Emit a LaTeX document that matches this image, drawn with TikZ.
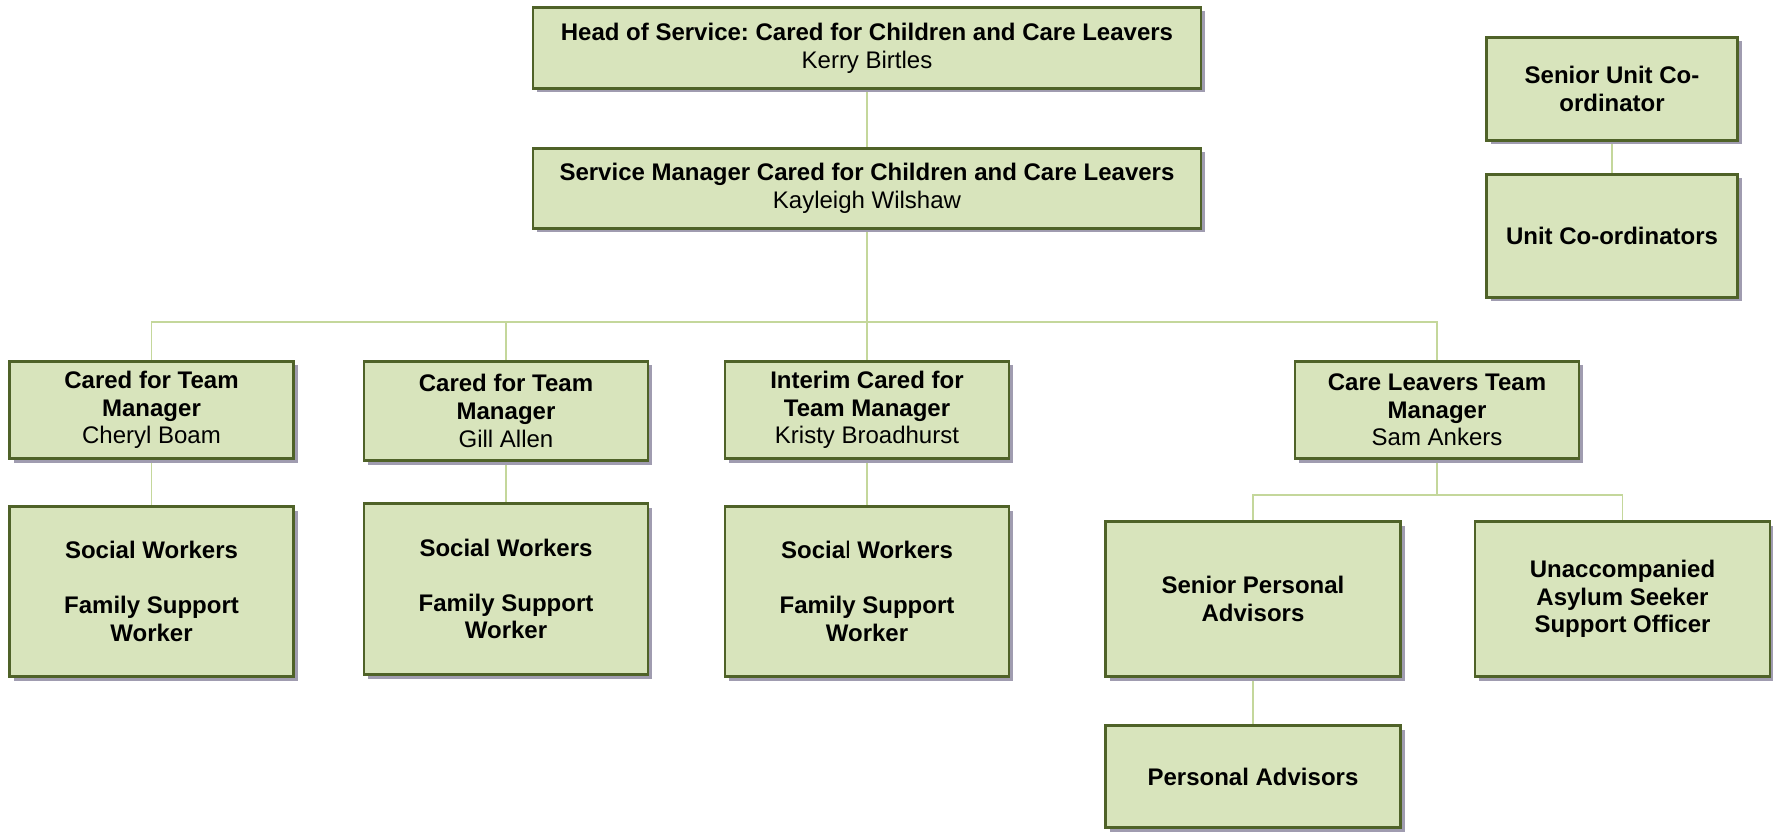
\documentclass[tikz,border=0pt]{standalone}
\usepackage{fontspec}
\setmainfont{Liberation Sans}
\usetikzlibrary{shadows,backgrounds}
\definecolor{boxfill}{HTML}{D8E4BC}
\definecolor{boxborder}{HTML}{4F6228}
\definecolor{shadowc}{HTML}{A09CB0}
\definecolor{connc}{HTML}{C4D79B}
\frenchspacing
\tikzset{
  orgbox/.style={draw=boxborder, fill=boxfill, line width=2.5pt, align=center,
    inner sep=0pt, text=black, font=\fontsize{24}{27.6}\selectfont,
    drop shadow={shadow xshift=4pt, shadow yshift=-4pt, fill=shadowc, opacity=1}},
  conn/.style={draw=connc, line width=1.5pt}
}
\begin{document}
\begin{tikzpicture}[x=1pt,y=-1pt]
\useasboundingbox (0,0) rectangle (1773,834);
% top
\node[orgbox, minimum width=668pt, minimum height=81pt] (head) at (867,48)
  {\textbf{Head of Service: Cared for Children and Care Leavers}\\Kerry Birtles};
\node[orgbox, minimum width=668pt, minimum height=80pt] (svc) at (867,188.5)
  {\textbf{Service Manager Cared for Children and Care Leavers}\\Kayleigh Wilshaw};
% team managers
\node[orgbox, minimum width=284pt, minimum height=97pt] (cA) at (151.5,410)
  {\textbf{Cared for Team}\\\textbf{Manager}\\Cheryl Boam};
\node[orgbox, minimum width=284pt, minimum height=99pt] (cB) at (506,411)
  {\textbf{Cared for Team}\\\textbf{Manager}\\Gill Allen};
\node[orgbox, minimum width=284pt, minimum height=97pt] (cC) at (867,410)
  {\textbf{Interim Cared for}\\\textbf{Team Manager}\\Kristy Broadhurst};
\node[orgbox, minimum width=284pt, minimum height=97pt] (cD) at (1437,410)
  {\textbf{Care Leavers Team}\\\textbf{Manager}\\Sam Ankers};
% lower boxes
\node[orgbox, minimum width=284pt, minimum height=170pt] (lA) at (151.5,591.5)
  {\textbf{Social Workers}\\[27.6pt]\textbf{Family Support}\\\textbf{Worker}};
\node[orgbox, minimum width=284pt, minimum height=171pt] (lB) at (506,589)
  {\textbf{Social Workers}\\[27.6pt]\textbf{Family Support}\\\textbf{Worker}};
\node[orgbox, minimum width=284pt, minimum height=170pt] (lC) at (867,591.5)
  {\textbf{Socia}l\textbf{ Workers}\\[27.6pt]\textbf{Family Support}\\\textbf{Worker}};
\node[orgbox, minimum width=295pt, minimum height=155pt] (spa) at (1253,599)
  {\textbf{Senior Personal}\\\textbf{Advisors}};
\node[orgbox, minimum width=295pt, minimum height=155pt] (uasc) at (1622.5,599)
  {\textbf{Unaccompanied}\\\textbf{Asylum Seeker}\\\textbf{Support Officer}};
\node[orgbox, minimum width=295pt, minimum height=102pt] (pa) at (1253,776.5)
  {\textbf{Personal Advisors}};
% side
\node[orgbox, minimum width=251pt, minimum height=103pt] (su) at (1612,89)
  {\textbf{Senior Unit Co-}\\\textbf{ordinator}};
\node[orgbox, minimum width=251pt, minimum height=123pt] (uc) at (1612,236)
  {\textbf{Unit Co-ordinators}};
% connectors
\begin{scope}[on background layer]
\coordinate (busy) at (0,322);
\coordinate (suby) at (0,495);
\draw[conn] (head.south) -- (svc.north);
\draw[conn] (svc.south) -- (svc.south |- busy);
\draw[conn] (cA.north) |- (busy -| cD.north) -- (cD.north);
\draw[conn] (cB.north) -- (cB.north |- busy);
\draw[conn] (cC.north) -- (cC.north |- busy);
\draw[conn] (cA.south) -- (lA.north);
\draw[conn] (cB.south) -- (lB.north);
\draw[conn] (cC.south) -- (lC.north);
\draw[conn] (cD.south) -- (cD.south |- suby);
\draw[conn] (spa.north) |- (suby -| uasc.north) -- (uasc.north);
\draw[conn] (spa.south) -- (pa.north);
\draw[conn] (su.south) -- (uc.north);
\end{scope}
\end{tikzpicture}
\end{document}
